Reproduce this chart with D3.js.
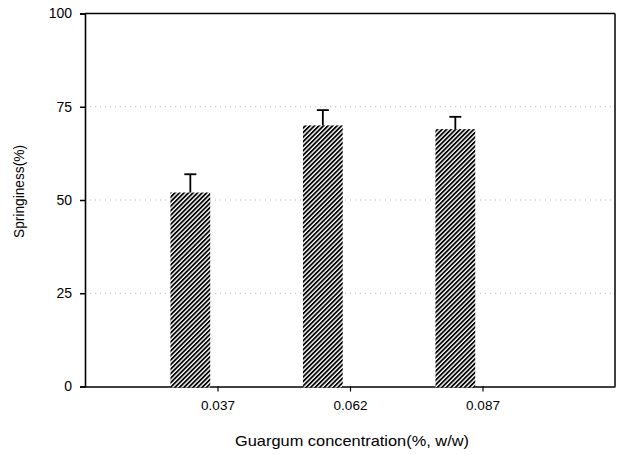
<!DOCTYPE html>
<html>
<head>
<meta charset="utf-8">
<script src="https://cdn.jsdelivr.net/npm/d3@7"></script>
<style>
  html, body { margin: 0; padding: 0; background: #fff; }
  svg { display: block; font-family: "Liberation Sans", Arial, sans-serif; }
</style>
</head>
<body>
<svg id="chart" width="620" height="454"></svg>
<script>
// ---- data ----
const categories = ["0.037", "0.062", "0.087"];
const springiness = [52, 70, 69];
const errors = [4.9, 4.1, 3.3];
const yTicks = [0, 25, 50, 75, 100];
const gridValues = [25, 50, 75];

// ---- layout ----
const W = 620, H = 454;
const margin = { left: 85, right: 5, top: 13.5, bottom: 67.5 };
const svg = d3.select("#chart");

const x = d3.scaleLinear().domain([0, categories.length + 1]).range([margin.left, W - margin.right]);
const y = d3.scaleLinear().domain([0, 100]).range([H - margin.bottom, margin.top]);
const step = x(1) - x(0);
const barW = 0.30 * step;
const barOffset = 0.355 * step; // left edge = center - barOffset

// hatch pattern
const defs = svg.append("defs");
const pat = defs.append("pattern")
  .attr("id", "hatch").attr("patternUnits", "userSpaceOnUse")
  .attr("width", 3.2).attr("height", 3.2)
  .attr("patternTransform", "rotate(45)");
pat.append("rect").attr("width", 3.2).attr("height", 3.2).attr("fill", "#fff");
pat.append("rect").attr("width", 1.8).attr("height", 3.2).attr("fill", "#000");

// gridlines
svg.append("g").selectAll("line").data(gridValues).join("line")
  .attr("x1", x(0)).attr("x2", x(categories.length + 1))
  .attr("y1", d => y(d)).attr("y2", d => y(d))
  .attr("stroke", "#b5b5b5").attr("stroke-width", 1)
  .attr("stroke-dasharray", "1,4");

// frame top & right
svg.append("line").attr("x1", x(0)).attr("x2", x(categories.length + 1))
  .attr("y1", y(100)).attr("y2", y(100)).attr("stroke", "#000").attr("stroke-width", 1.5);
svg.append("line").attr("x1", x(categories.length + 1)).attr("x2", x(categories.length + 1))
  .attr("y1", y(100)).attr("y2", y(0)).attr("stroke", "#000").attr("stroke-width", 1.5);

// y axis
const yAxis = d3.axisLeft(y).tickValues(yTicks).tickSize(5).tickPadding(8).tickFormat(d3.format("d"));
const gy = svg.append("g").attr("transform", `translate(${x(0)},0)`).call(yAxis);
gy.select(".domain").attr("stroke-width", 1.6);
gy.selectAll(".tick line").attr("stroke-width", 1.5);
gy.selectAll("text").attr("font-size", 14).attr("fill", "#000")
  .attr("font-family", "Liberation Sans, Arial, sans-serif");

// x axis
const xAxis = d3.axisBottom(x).tickValues(categories.map((c, i) => i + 1))
  .tickFormat((d) => categories[d - 1]).tickSize(5).tickSizeOuter(0).tickPadding(9);
const gx = svg.append("g").attr("transform", `translate(0,${y(0)})`).call(xAxis);
gx.select(".domain").attr("stroke-width", 1.6);
gx.selectAll(".tick line").attr("stroke-width", 1.2);
gx.selectAll("text").attr("font-size", 13.5).attr("fill", "#000")
  .attr("font-family", "Liberation Sans, Arial, sans-serif");

// bars
svg.append("g").selectAll("rect").data(springiness).join("rect")
  .attr("x", (d, i) => x(i + 1) - barOffset)
  .attr("width", barW)
  .attr("y", d => y(d))
  .attr("height", d => y(0) - y(d) + 1)
  .attr("fill", "url(#hatch)");

// error bars (upper only)
const eb = svg.append("g").attr("stroke", "#000").attr("stroke-width", 1.8);
springiness.forEach((v, i) => {
  const cx = x(i + 1) - barOffset + barW / 2;
  eb.append("line").attr("x1", cx).attr("x2", cx).attr("y1", y(v)).attr("y2", y(v + errors[i]));
  eb.append("line").attr("x1", cx - 6).attr("x2", cx + 6)
    .attr("y1", y(v + errors[i])).attr("y2", y(v + errors[i]));
});

// axis titles
svg.append("text").attr("x", 352).attr("y", 446).attr("text-anchor", "middle")
  .attr("font-size", 15).attr("textLength", 234).attr("lengthAdjust", "spacingAndGlyphs")
  .text("Guargum concentration(%, w/w)");
svg.append("text").attr("transform", "translate(24,191.5) rotate(-90)")
  .attr("text-anchor", "middle").attr("font-size", 14)
  .attr("textLength", 93).attr("lengthAdjust", "spacingAndGlyphs")
  .text("Springiness(%)");
</script>
</body>
</html>
